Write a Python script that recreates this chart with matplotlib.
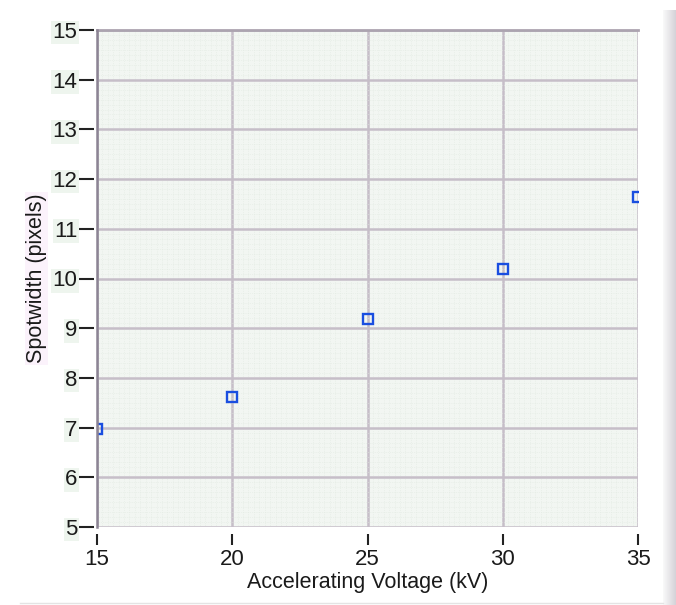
import numpy as np
import matplotlib
matplotlib.use('Agg')
import matplotlib.pyplot as plt
from matplotlib.ticker import MultipleLocator

# Spot width vs accelerating voltage
voltage_kv = [15, 20, 25, 30, 35]
spotwidth_px = [6.97, 7.62, 9.18, 10.19, 11.64]

x_ticks = [15, 20, 25, 30, 35]
y_ticks = [5, 6, 7, 8, 9, 10, 11, 12, 13, 14, 15]

W, H = 676, 605
fig = plt.figure(figsize=(W / 100, H / 100), dpi=100)
fig.patch.set_facecolor('white')

# plot area in pixels: left 97, right 638, top 30, bottom 527
ax = fig.add_axes([97 / W, (H - 527) / H, (638 - 97) / W, (527 - 30) / H])
ax.set_facecolor('#f2f6f2')

ax.set_xlim(15, 35)
ax.set_ylim(5, 15)
ax.set_xticks(x_ticks)
ax.set_yticks(y_ticks)

ax.xaxis.set_minor_locator(MultipleLocator(0.2))
ax.yaxis.set_minor_locator(MultipleLocator(0.1))
ax.grid(which='minor', color='#e2eae2', linestyle=':', linewidth=0.5)
ax.grid(which='major', color='#c6bec8', linestyle='-', linewidth=1.8)
ax.tick_params(which='minor', length=0)
ax.set_axisbelow(True)

ax.plot(voltage_kv, spotwidth_px, linestyle='none', marker='s', markersize=6.8,
        markerfacecolor='none', markeredgecolor='#1a4ee0', markeredgewidth=1.7,
        clip_on=True, zorder=3)

# ticks sit a little away from the plot edge, so move the spines out and hide them
for side in ['right', 'bottom', 'left']:
    ax.spines[side].set_visible(False)
ax.spines['bottom'].set_position(('outward', 5))
ax.spines['left'].set_position(('outward', 2))
ax.spines['top'].set_color('#aca4b0')
ax.spines['top'].set_linewidth(2)
ax.plot([0, 0], [0, 1], transform=ax.transAxes, color='#8c8494', linewidth=1.8,
        clip_on=False, zorder=4)

font = 'Liberation Sans'
ax.tick_params(axis='x', which='major', direction='out', length=8, width=1.5,
               color='#222222', pad=3, labelsize=16)
ax.tick_params(axis='y', which='major', direction='out', length=11, width=1.5,
               color='#222222', pad=1, labelsize=16)
for lab in ax.get_xticklabels() + ax.get_yticklabels():
    lab.set_fontfamily(font)
    lab.set_color('#1a1a1a')
for lab in ax.get_yticklabels():
    lab.set_bbox(dict(facecolor='#eef5ee', edgecolor='none', pad=1))

ax.set_xlabel('Accelerating Voltage (kV)', fontsize=15.5, fontfamily=font,
              color='#1a1a1a', labelpad=1)
ax.set_ylabel('Spotwidth (pixels)', fontsize=15.5, fontfamily=font,
              color='#1a1a1a', labelpad=4,
              bbox=dict(facecolor='#fbf2fb', edgecolor='none', pad=1))

# grey panel strip at the right edge and thin bottom line
grad = np.linspace(0, 1, 50).reshape(1, -1)
strip = fig.add_axes([663 / W, 0, (W - 663) / W, (H - 10) / H])
strip.imshow(grad, aspect='auto', cmap=matplotlib.colors.LinearSegmentedColormap.from_list(
    'g', ['#fafafa', '#d4d2d8']))
strip.axis('off')
fig.add_artist(plt.Line2D([20 / W, 663 / W], [2 / H, 2 / H], color='#e4e4e4', linewidth=1))

fig.savefig('out.png', dpi=100)
